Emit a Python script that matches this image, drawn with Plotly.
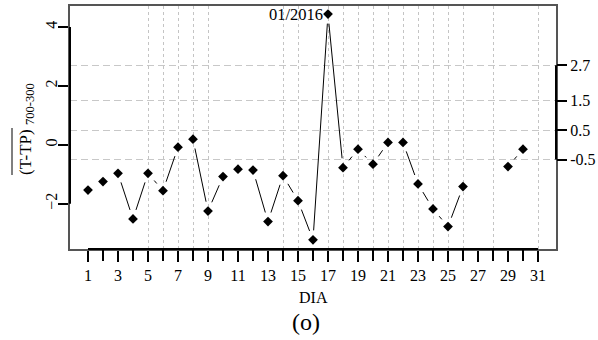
import plotly.graph_objects as go

# ---------------- data ----------------
days = list(range(1, 32))
values = [-1.54, -1.25, -0.97, -2.52, -0.97, -1.56, -0.08, 0.19, -2.25, -1.08,
          -0.83, -0.86, -2.61, -1.05, -1.90, -3.23, 4.44, -0.78, -0.15, -0.66,
          0.08, 0.08, -1.33, -2.18, -2.78, -1.42, None, None, -0.74, -0.15, None]
left_ticks = [-2, 0, 2, 4]
right_ticks = [-0.5, 0.5, 1.5, 2.7]
vgrid_days = [5, 6, 7, 8, 9, 14, 15, 17, 18, 19, 20, 21, 22, 23, 24, 25, 26, 28, 31]
labelled_days = [d for d in days if d % 2 == 1]
unlabelled_days = [d for d in days if d % 2 == 0]
peak_label = "01/2016"
peak_day = 17

# ---------------- layout geometry ----------------
W, H = 598, 340
ML, MR, MT, MB = 70, 42, 6, 91
PW, PH = W - ML - MR, H - MT - MB
XR = [-0.2, 32.2]
YR = [-3.541, 4.716]
sx = PW / (XR[1] - XR[0])
sy = PH / (YR[1] - YR[0])
GAP = 9.5  # pixel gap around points (R type="b")

FONT = "Liberation Serif"


def px_x(p):
    return (p - ML) / PW


def px_y(p):
    return (H - MB - p) / PH


# gapped segments (R type = "b")
seg_x, seg_y = [], []
for i in range(len(days) - 1):
    y1, y2 = values[i], values[i + 1]
    if y1 is None or y2 is None:
        continue
    x1, x2 = days[i], days[i + 1]
    dxp, dyp = (x2 - x1) * sx, (y2 - y1) * sy
    L = (dxp ** 2 + dyp ** 2) ** 0.5
    if L <= 2 * GAP:
        continue
    f = GAP / L
    seg_x += [x1 + f * (x2 - x1), x2 - f * (x2 - x1), None]
    seg_y += [y1 + f * (y2 - y1), y2 - f * (y2 - y1), None]

fig = go.Figure()
fig.add_trace(go.Scatter(x=seg_x, y=seg_y, mode="lines",
                         line=dict(color="black", width=1), hoverinfo="skip",
                         showlegend=False))
fig.add_trace(go.Scatter(x=days, y=values, mode="markers",
                         marker=dict(symbol="diamond", size=7.5, color="black"),
                         showlegend=False))
# helper traces for secondary axes
fig.add_trace(go.Scatter(x=[None], y=[None], xaxis="x2", yaxis="y2",
                         showlegend=False, hoverinfo="skip"))
fig.add_trace(go.Scatter(x=[None], y=[None], xaxis="x3", yaxis="y",
                         showlegend=False, hoverinfo="skip"))

axis_font = dict(family=FONT, size=16, color="black")

fig.update_layout(
    width=W, height=H,
    margin=dict(l=ML, r=MR, t=MT, b=MB, autoexpand=False),
    paper_bgcolor="white", plot_bgcolor="white",
    showlegend=False,
    xaxis=dict(range=XR, tickvals=labelled_days,
               ticktext=[str(d) for d in labelled_days],
               ticks="outside", ticklen=11, tickwidth=2, tickcolor="black",
               showgrid=False, zeroline=False, automargin=False,
               showline=True, linecolor="#555555", linewidth=1.5, mirror=True,
               tickfont=axis_font),
    xaxis3=dict(range=XR, overlaying="x", anchor="y", side="bottom",
                tickvals=unlabelled_days, showticklabels=False,
                ticks="outside", ticklen=11, tickwidth=2, tickcolor="black",
                showgrid=False, zeroline=False, showline=False, automargin=False),
    yaxis=dict(range=YR, tickvals=left_ticks, tickangle=-90,
               ticks="outside", ticklen=10, tickwidth=2, tickcolor="black",
               ticklabelstandoff=-5,
               showgrid=False, zeroline=False, automargin=False,
               showline=True, linecolor="#555555", linewidth=1.5, mirror=True,
               tickfont=axis_font),
    xaxis2=dict(range=XR, overlaying="x", anchor="y2", side="bottom",
                tickvals=vgrid_days, showticklabels=False, ticks="",
                showgrid=True, gridcolor="#c4c4c4", gridwidth=1, griddash="dot",
                zeroline=False, showline=False, automargin=False),
    yaxis2=dict(range=YR, overlaying="y", anchor="x2", side="right",
                tickvals=right_ticks, ticktext=[str(v) for v in right_ticks],
                ticks="outside", ticklen=10, tickwidth=2, tickcolor="black",
                showgrid=True, gridcolor="#c8c8c8", gridwidth=1.3,
                griddash="7px,4px", zeroline=False, showline=False,
                automargin=False, tickfont=axis_font),
)

# R-style axis lines spanning only the tick range
fig.add_shape(type="line", xref="paper", yref="y", x0=0, x1=0,
              y0=min(left_ticks), y1=max(left_ticks),
              line=dict(color="black", width=2))
fig.add_shape(type="line", xref="paper", yref="y", x0=1, x1=1,
              y0=min(right_ticks), y1=max(right_ticks),
              line=dict(color="black", width=2))
fig.add_shape(type="line", xref="x", yref="paper", x0=min(days), x1=max(days),
              y0=0, y1=0, line=dict(color="black", width=2))

# peak label
fig.add_annotation(x=peak_day, y=values[peak_day - 1], text=peak_label,
                   showarrow=False, xanchor="right", yanchor="middle", xshift=-3,
                   font=dict(family=FONT, size=16.5, color="black"))

# axis titles
fig.add_annotation(xref="paper", yref="paper", x=0.5, y=px_y(297),
                   text="DIA", showarrow=False, xanchor="center", yanchor="middle",
                   font=dict(family=FONT, size=16, color="black"))
fig.add_annotation(xref="paper", yref="paper", x=px_x(306), y=px_y(322),
                   text="(o)", showarrow=False, xanchor="center", yanchor="middle",
                   font=dict(family=FONT, size=24, color="black"))
# y title: main part + subscript, rotated
fig.add_annotation(xref="paper", yref="paper", x=px_x(26), y=px_y(152),
                   text="(T-TP)", textangle=-90, showarrow=False,
                   xanchor="center", yanchor="middle",
                   font=dict(family=FONT, size=17, color="black"))
fig.add_annotation(xref="paper", yref="paper", x=px_x(30), y=px_y(104),
                   text="700-300", textangle=-90, showarrow=False,
                   xanchor="center", yanchor="middle",
                   font=dict(family=FONT, size=12.5, color="black"))
# overline on the y title
fig.add_shape(type="line", xref="paper", yref="paper",
              x0=px_x(12), x1=px_x(12), y0=px_y(128), y1=px_y(175),
              line=dict(color="black", width=1))

fig.write_html("out.html",
               config={"displayModeBar": False},
               post_script="document.body.style.margin='0';document.body.style.overflow='hidden';")
